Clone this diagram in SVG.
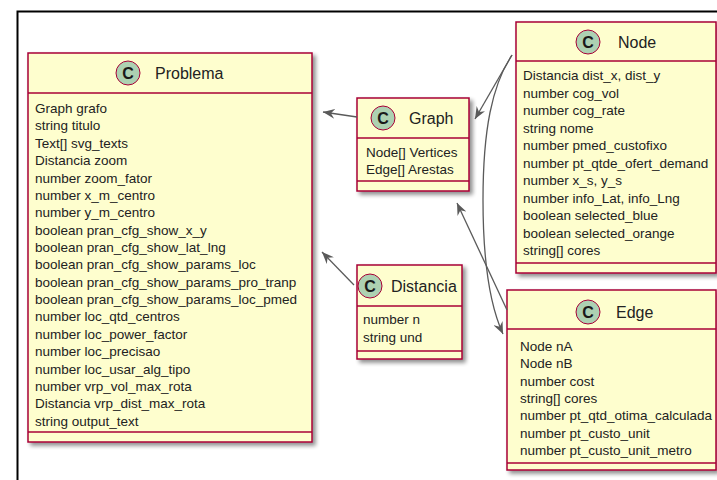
<svg xmlns="http://www.w3.org/2000/svg" width="717" height="480" viewBox="0 0 717 480">
<defs>
<filter id="sh" x="-10%" y="-10%" width="130%" height="130%">
<feGaussianBlur in="SourceAlpha" stdDeviation="2"/>
<feOffset dx="3" dy="3" result="b"/>
<feComponentTransfer><feFuncA type="linear" slope="0.45"/></feComponentTransfer>
<feMerge><feMergeNode/><feMergeNode in="SourceGraphic"/></feMerge>
</filter>
<marker id="arr" viewBox="0 0 12 10" refX="12" refY="5" markerWidth="12" markerHeight="10" markerUnits="userSpaceOnUse" orient="auto">
<path d="M0,0 L12,5 L0,10 L4,5 Z" fill="#5a5a5a"/>
</marker>
</defs>
<style>
.box{fill:#FEFECE;stroke:#A80036;stroke-width:1.5}
.sep{stroke:#A80036;stroke-width:1.5}
.circ{fill:#ADD1B2;stroke:#A80036;stroke-width:1}
.cl{font-family:"Liberation Sans",Arial,sans-serif;font-size:16px;font-weight:bold;fill:#1a1a1a;text-anchor:middle}
.tt{font-family:"Liberation Sans",Arial,sans-serif;font-size:16px;fill:#222}
.at{font-family:"Liberation Sans",Arial,sans-serif;font-size:13.5px;fill:#222}
.cn{fill:none;stroke:#5a5a5a;stroke-width:1.3;marker-end:url(#arr)}
</style>
<rect width="717" height="480" fill="#fff"/>
<path d="M17.5,480 L17.5,11.5 L717,11.5" fill="none" stroke="#000" stroke-width="2"/>

<g id="Problema">
<rect class="box" x="28" y="53" width="284" height="389" filter="url(#sh)"/>
<line class="sep" x1="28" y1="93" x2="312" y2="93"/>
<line class="sep" x1="28" y1="432" x2="312" y2="432"/>
<circle class="circ" cx="128" cy="73" r="12"/>
<text class="cl" x="128" y="79">C</text>
<text class="tt" x="155" y="78.5">Problema</text>
<text class="at" x="35" y="113">Graph grafo</text>
<text class="at" x="35" y="130.4">string titulo</text>
<text class="at" x="35" y="147.7">Text[] svg_texts</text>
<text class="at" x="35" y="165.1">Distancia zoom</text>
<text class="at" x="35" y="182.5">number zoom_fator</text>
<text class="at" x="35" y="199.9">number x_m_centro</text>
<text class="at" x="35" y="217.2">number y_m_centro</text>
<text class="at" x="35" y="234.6">boolean pran_cfg_show_x_y</text>
<text class="at" x="35" y="252">boolean pran_cfg_show_lat_lng</text>
<text class="at" x="35" y="269.3">boolean pran_cfg_show_params_loc</text>
<text class="at" x="35" y="286.7">boolean pran_cfg_show_params_pro_tranp</text>
<text class="at" x="35" y="304.1">boolean pran_cfg_show_params_loc_pmed</text>
<text class="at" x="35" y="321.4">number loc_qtd_centros</text>
<text class="at" x="35" y="338.8">number loc_power_factor</text>
<text class="at" x="35" y="356.2">number loc_precisao</text>
<text class="at" x="35" y="373.6">number loc_usar_alg_tipo</text>
<text class="at" x="35" y="390.9">number vrp_vol_max_rota</text>
<text class="at" x="35" y="408.3">Distancia vrp_dist_max_rota</text>
<text class="at" x="35" y="425.7">string output_text</text>
</g>

<g id="Graph">
<rect class="box" x="357" y="98" width="112" height="93" filter="url(#sh)"/>
<line class="sep" x1="357" y1="138" x2="469" y2="138"/>
<line class="sep" x1="357" y1="181" x2="469" y2="181"/>
<circle class="circ" cx="383" cy="118" r="12"/>
<text class="cl" x="383" y="124">C</text>
<text class="tt" x="409" y="123.5">Graph</text>
<text class="at" x="366" y="157">Node[] Vertices</text>
<text class="at" x="366" y="174">Edge[] Arestas</text>
</g>

<g id="Node">
<rect class="box" x="516" y="22" width="200" height="251" filter="url(#sh)"/>
<line class="sep" x1="516" y1="61" x2="716" y2="61"/>
<line class="sep" x1="516" y1="263" x2="716" y2="263"/>
<circle class="circ" cx="588" cy="42" r="12"/>
<text class="cl" x="588" y="48">C</text>
<text class="tt" x="618" y="47.5">Node</text>
<text class="at" x="523" y="80">Distancia dist_x, dist_y</text>
<text class="at" x="523" y="97.5">number cog_vol</text>
<text class="at" x="523" y="115">number cog_rate</text>
<text class="at" x="523" y="132.5">string nome</text>
<text class="at" x="523" y="150">number pmed_custofixo</text>
<text class="at" x="523" y="167.5">number pt_qtde_ofert_demand</text>
<text class="at" x="523" y="185">number x_s, y_s</text>
<text class="at" x="523" y="202.5">number info_Lat, info_Lng</text>
<text class="at" x="523" y="220">boolean selected_blue</text>
<text class="at" x="523" y="237.5">boolean selected_orange</text>
<text class="at" x="523" y="255">string[] cores</text>
</g>

<g id="Edge">
<rect class="box" x="507" y="290" width="209" height="180" filter="url(#sh)"/>
<line class="sep" x1="507" y1="329" x2="716" y2="329"/>
<line class="sep" x1="507" y1="463" x2="716" y2="463"/>
<circle class="circ" cx="588" cy="312" r="12"/>
<text class="cl" x="588" y="318">C</text>
<text class="tt" x="616" y="317.5">Edge</text>
<text class="at" x="520" y="351">Node nA</text>
<text class="at" x="520" y="368.3">Node nB</text>
<text class="at" x="520" y="385.6">number cost</text>
<text class="at" x="520" y="402.9">string[] cores</text>
<text class="at" x="520" y="420.2">number pt_qtd_otima_calculada</text>
<text class="at" x="520" y="437.5">number pt_custo_unit</text>
<text class="at" x="520" y="454.8">number pt_custo_unit_metro</text>
</g>

<g id="Distancia">
<rect class="box" x="357" y="265" width="105" height="94" filter="url(#sh)"/>
<line class="sep" x1="357" y1="306" x2="462" y2="306"/>
<line class="sep" x1="357" y1="351" x2="462" y2="351"/>
<circle class="circ" cx="370" cy="286" r="12"/>
<text class="cl" x="370" y="292">C</text>
<text class="tt" x="391" y="291.5">Distancia</text>
<text class="at" x="363" y="324">number n</text>
<text class="at" x="363" y="342">string und</text>
</g>

<g id="connectors">
<path class="cn" d="M357,117 L323,112"/>
<path class="cn" d="M354,285 L322,252"/>
<path class="cn" d="M512,55 L475,119"/>
<path class="cn" d="M512,55 C492,85 483,130 483,200 C483,270 492,310 503,334"/>
<path class="cn" d="M507,310 L457,203"/>
</g>
</svg>
